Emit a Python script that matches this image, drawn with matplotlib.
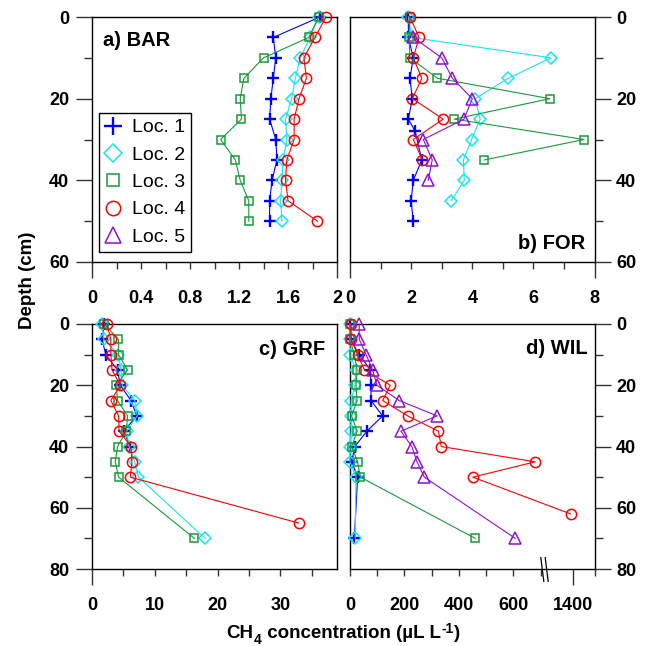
import numpy as np
import matplotlib
matplotlib.use("Agg")
import matplotlib.pyplot as plt
from matplotlib.lines import Line2D
from matplotlib.path import Path

plt.rcParams['font.family'] = ['Liberation Sans', 'DejaVu Sans']

# ---- data ----
locs = ["Loc. 1", "Loc. 2", "Loc. 3", "Loc. 4", "Loc. 5"]

# a) BAR
bar_depth = [0, 5, 10, 15, 20, 25, 30, 35, 40, 45, 50]
bar_loc1 = [1.86, 1.48, 1.50, 1.48, 1.46, 1.45, 1.50, 1.51, 1.47, 1.45, 1.45]
bar_loc2 = [1.85, 1.78, 1.70, 1.66, 1.63, 1.58, 1.59, 1.56, 1.55, 1.54, 1.55]
bar_loc3 = [1.85, 1.77, 1.40, 1.24, 1.21, 1.22, 1.05, 1.17, 1.21, 1.28, 1.28]
bar_loc4 = [1.91, 1.82, 1.73, 1.75, 1.69, 1.65, 1.65, 1.59, 1.58, 1.60, 1.84]

# b) FOR
for_depth1 = [0, 5, 10, 15, 20, 25, 28, 35, 40, 45, 50]
for_loc1 = [1.91, 1.91, 2.07, 1.96, 2.04, 1.91, 2.13, 2.35, 2.07, 2.00, 2.07]
for_depth2 = [0, 5, 10, 15, 20, 25, 30, 35, 40, 45]
for_loc2 = [1.91, 2.02, 6.58, 5.18, 4.09, 4.26, 3.98, 3.71, 3.74, 3.31]
for_depth3 = [0, 5, 10, 15, 20, 25, 30, 35]
for_loc3 = [1.96, 1.93, 1.96, 2.86, 6.54, 3.41, 7.66, 4.40]
for_depth4 = [0, 5, 10, 15, 20, 25, 30, 35]
for_loc4 = [1.96, 2.26, 2.07, 2.35, 2.04, 3.05, 2.07, 2.37]
for_depth5 = [5, 10, 15, 20, 25, 30, 35, 40]
for_loc5 = [2.07, 3.00, 3.35, 4.00, 3.73, 2.40, 2.69, 2.56]

# c) GRF
grf_depth1 = [0, 5, 10, 15, 20, 25, 30, 35, 40]
grf_loc1 = [1.96, 1.59, 2.2, 4.07, 4.5, 6.2, 7.15, 5.03, 6.1]
grf_depth2 = [0, 5, 10, 15, 20, 25, 30, 35, 40, 45, 50, 70]
grf_loc2 = [1.6, 1.85, 4.2, 4.6, 4.8, 6.8, 7.2, 5.5, 5.9, 6.8, 7.4, 18.0]
grf_depth3 = [0, 5, 10, 15, 20, 25, 30, 35, 40, 45, 50, 70]
grf_loc3 = [1.96, 4.2, 4.23, 5.66, 3.86, 4.07, 5.66, 5.45, 4.07, 3.7, 4.23, 16.3]
grf_depth4 = [0, 5, 10, 15, 20, 25, 30, 35, 40, 45, 50, 65]
grf_loc4 = [2.38, 3.0, 3.0, 3.18, 4.5, 3.0, 4.23, 4.33, 6.2, 6.36, 6.1, 32.9]

# d) WIL
wil_depth = [0, 5, 10, 15, 20, 25, 30, 35, 40, 45, 50, 70]
wil_loc1 = [1, 1, 34, 75, 77, 77, 120, 62, 18, 6, 28, 16]
wil_loc2 = [0, 0, 0, 22, 18, 4, 4, 4, 0, 0, 22, 19]
wil_loc3 = [0, 0, 16, 26, 22, 26, 6, 26, 6, 28, 38, 460]
wil_depth4 = [0, 5, 10, 15, 20, 25, 30, 35, 40, 45, 50, 62]
wil_loc4 = [3, 5, 28, 53, 148, 120, 212, 325, 335, 680, 451, 1392]
wil_loc5 = [34, 34, 59, 83, 99, 181, 320, 187, 227, 246, 273, 607]

# ---- styles ----
colors = ['#0000ff', '#18e4f4', '#1a9a3a', '#ff0000', '#9010d0']
markers = ['+', 'D', 's', 'o', '^']
msizes = [8.8, 6.3, 6.0, 7.4, 8.0]

W, H = 651, 646
fig = plt.figure(figsize=(W / 100, H / 100), dpi=100)


def box(l, t, r, b):
    return [l / W, 1 - b / H, (r - l) / W, (b - t) / H]


ax_a = fig.add_axes(box(92, 17, 337, 262))
ax_b = fig.add_axes(box(350, 17, 594.5, 262))
ax_c = fig.add_axes(box(92, 324, 337, 569))
ax_d = fig.add_axes(box(350, 324, 594.5, 569))


def plot_series(ax, xs, ys, i):
    ax.plot(xs, ys, color=colors[i], lw=0.8, marker=markers[i],
            ms=msizes[i], mfc='none', mec=colors[i],
            mew=1.7 if markers[i] == '+' else 1.1, clip_on=False, zorder=3)


plot_series(ax_a, bar_loc1, bar_depth, 0)
plot_series(ax_a, bar_loc2, bar_depth, 1)
plot_series(ax_a, bar_loc3, bar_depth, 2)
plot_series(ax_a, bar_loc4, bar_depth, 3)

plot_series(ax_b, for_loc1, for_depth1, 0)
plot_series(ax_b, for_loc2, for_depth2, 1)
plot_series(ax_b, for_loc3, for_depth3, 2)
plot_series(ax_b, for_loc4, for_depth4, 3)
plot_series(ax_b, for_loc5, for_depth5, 4)

plot_series(ax_c, grf_loc1, grf_depth1, 0)
plot_series(ax_c, grf_loc2, grf_depth2, 1)
plot_series(ax_c, grf_loc3, grf_depth3, 2)
plot_series(ax_c, grf_loc4, grf_depth4, 3)


# broken x axis for panel d: 700..1300 squeezed
def fwd(x):
    return np.interp(x, [-1e4, 700, 1300, 1e4], [-1e4, 700, 718, 1e4 - 582])


def inv(y):
    return np.interp(y, [-1e4, 700, 718, 1e4 - 582], [-1e4, 700, 1300, 1e4])


ax_d.set_xscale('function', functions=(fwd, inv))
plot_series(ax_d, wil_loc1, wil_depth, 0)
plot_series(ax_d, wil_loc2, wil_depth, 1)
plot_series(ax_d, wil_loc3, wil_depth, 2)
plot_series(ax_d, wil_loc4, wil_depth4, 3)
plot_series(ax_d, wil_loc5, wil_depth, 4)

tick_font = dict(fontsize=13, fontweight='bold')


def style(ax, xlim, xticks, xlabels, long_x, ymax, right):
    ax.set_xlim(*xlim)
    ax.set_ylim(ymax, 0)
    ax.set_xticks(xticks)
    ax.set_xticklabels(xlabels, **tick_font)
    ax.set_yticks(np.arange(0, ymax + 1, 20))
    ax.set_yticks(np.arange(10, ymax, 20), minor=True)
    ax.set_yticklabels([str(v) for v in np.arange(0, ymax + 1, 20)], **tick_font)
    ax.tick_params(axis='x', which='both', direction='out', length=5, width=1,
                   pad=15, top=False, color='#333333')
    ax.tick_params(axis='y', which='major', direction='out', length=11.5,
                   width=1, pad=5, color='#333333')
    ax.tick_params(axis='y', which='minor', direction='out', length=6,
                   width=1, color='#333333')
    if right:
        ax.yaxis.tick_right()
        ax.tick_params(axis='y', which='both', left=False, right=True,
                       labelleft=False, labelright=True, pad=4)
    else:
        ax.tick_params(axis='y', which='both', right=False)
    for sp in ax.spines.values():
        sp.set_linewidth(1)
    ticks = ax.xaxis.get_major_ticks()
    for k in long_x:
        ticks[k].tick1line.set_markersize(11.5)


style(ax_a, (0, 2), np.arange(0, 2.01, 0.2),
      ['0', '', '0.4', '', '0.8', '', '1.2', '', '1.6', '', '2'],
      [0, 10], 60, False)
style(ax_b, (0, 8), np.arange(0, 9, 1),
      ['0', '', '2', '', '4', '', '6', '', '8'], [0, 8], 60, True)
style(ax_c, (0, 39), np.arange(0, 36, 5),
      ['0', '', '10', '', '20', '', '30', ''], [0], 80, False)
style(ax_d, (0, 1480), [0, 100, 200, 300, 400, 500, 600, 700, 1400, 1480],
      ['0', '', '200', '', '400', '', '600', '', '1400', ''], [8], 80, True)

# axis break symbol on panel d
brk = Path([(-0.3, 1), (-0.05, -1), (0.05, 1), (0.3, -1)],
           [Path.MOVETO, Path.LINETO, Path.MOVETO, Path.LINETO])
ax_d.plot([1100], [0], transform=ax_d.get_xaxis_transform(), marker=brk,
          ms=18, mec='black', mew=0.9, ls='none', clip_on=False)

# panel titles
ttl = dict(fontsize=14.5, fontweight='bold')
ax_a.text(0.045, 0.905, 'a) BAR', transform=ax_a.transAxes, va='center', ha='left', **ttl)
ax_b.text(0.962, 0.076, 'b) FOR', transform=ax_b.transAxes, va='center', ha='right', **ttl)
ax_c.text(0.951, 0.896, 'c) GRF', transform=ax_c.transAxes, va='center', ha='right', **ttl)
ax_d.text(0.970, 0.900, 'd) WIL', transform=ax_d.transAxes, va='center', ha='right', **ttl)

# legend in panel a
handles = [Line2D([], [], ls='none', marker=markers[i], ms=msizes[i],
                  mfc='none', mec=colors[i],
                  mew=1.7 if markers[i] == '+' else 1.1) for i in range(5)]
leg = ax_a.legend(handles, locs, loc='upper left', bbox_to_anchor=(0.029, 0.608),
                  borderaxespad=0, fontsize=14, markerscale=1.4,
                  handlelength=0.8, handletextpad=0.6, labelspacing=0.5,
                  borderpad=0.3, fancybox=False, framealpha=1,
                  edgecolor='black')
leg.get_frame().set_linewidth(1)

fig.text(27 / W, 1 - 280 / H, 'Depth (cm)', rotation=90, ha='center',
         va='center', fontsize=13.5, fontweight='bold')

# x label built from bold pieces (sub/superscripts)
big = dict(fontsize=13.5, fontweight='bold')
small = dict(fontsize=10, fontweight='bold')
p1 = fig.text(0.3, 1 - 638 / H, 'CH', ha='left', va='baseline', **big)
p2 = ax_c.annotate('4', xy=(1, 0), xycoords=p1, xytext=(0.3, -3.5),
                   textcoords='offset points', va='bottom', ha='left',
                   annotation_clip=False, **small)
p3 = ax_c.annotate(' concentration (µL L', xy=(1, 0), xycoords=(p2, p1),
                   xytext=(0.3, 0), textcoords='offset points', va='bottom',
                   ha='left', annotation_clip=False, **big)
p4 = ax_c.annotate('-1', xy=(1, 1), xycoords=(p3, p3), xytext=(0.4, 2.0),
                   textcoords='offset points', va='top', ha='left',
                   annotation_clip=False, **small)
p5 = ax_c.annotate(')', xy=(1, 0), xycoords=(p4, p3), xytext=(0.4, 0),
                   textcoords='offset points', va='bottom', ha='left',
                   annotation_clip=False, **big)

fig.canvas.draw()
r = fig.canvas.get_renderer()
x0 = p1.get_window_extent(r).x0
x1 = p5.get_window_extent(r).x1
p1.set_x(p1.get_position()[0] + (343 - (x0 + x1) / 2) / W)

fig.savefig('out.png', dpi=100)
